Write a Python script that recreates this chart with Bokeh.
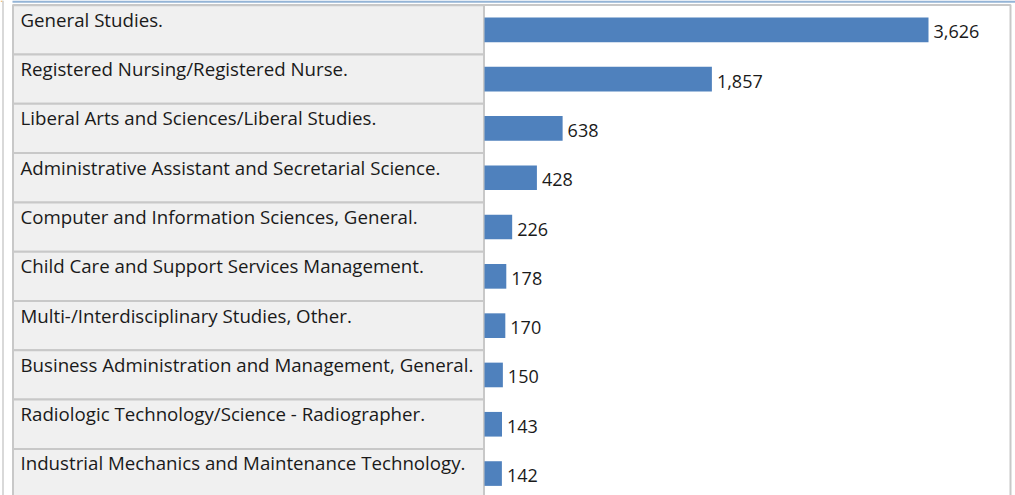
from bokeh.plotting import figure
from bokeh.models import Range1d, ColumnDataSource
from bokeh.embed import file_html
from bokeh.resources import INLINE
from bokeh.core.properties import value

programs = [
    "General Studies.",
    "Registered Nursing/Registered Nurse.",
    "Liberal Arts and Sciences/Liberal Studies.",
    "Administrative Assistant and Secretarial Science.",
    "Computer and Information Sciences, General.",
    "Child Care and Support Services Management.",
    "Multi-/Interdisciplinary Studies, Other.",
    "Business Administration and Management, General.",
    "Radiologic Technology/Science - Radiographer.",
    "Industrial Mechanics and Maintenance Technology.",
]
awards = [3626, 1857, 638, 428, 226, 178, 170, 150, 143, 142]
ranks = list(range(1, 11))
value_labels = [f"{v:,}" for v in awards]

W, H = 1015, 495
BAR0 = 484            # pixel where bars start
PX_PER_UNIT = 444 / 3626
FONT = value("Open Sans")

src = ColumnDataSource(dict(program=programs, awards=awards, rank=ranks,
                            top=[r - 0.5 for r in ranks],
                            bottom=[r + 0.5 for r in ranks],
                            label=value_labels))

p = figure(width=W, height=H, output_backend="svg", toolbar_location=None,
           x_range=Range1d(-BAR0 / PX_PER_UNIT, (W - BAR0) / PX_PER_UNIT),
           y_range=Range1d(10.445, 0.405),
           x_axis_location=None, y_axis_location=None,
           min_border=0)
p.extra_x_ranges = {"px": Range1d(0, W)}
p.extra_y_ranges = {"py": Range1d(H, 0)}
p.grid.visible = False
p.outline_line_color = None
p.background_fill_color = "white"
p.border_fill_color = "white"

# page decorations
p.quad(left=[12], right=[W], top=[0], bottom=[2.2], x_range_name="px", y_range_name="py",
       fill_color="#94b4d6", line_color=None)
p.quad(left=[0], right=[2], top=[0], bottom=[1.2], x_range_name="px", y_range_name="py",
       fill_color="#f0b050", line_color=None)
p.segment(x0=[2.5], x1=[2.5], y0=[0], y1=[H], x_range_name="px", y_range_name="py",
          line_color="#cccccc", line_width=1.5)
# outer box
p.quad(left=[12.5], right=[1010], top=[4.5], bottom=[H + 10], x_range_name="px", y_range_name="py",
       fill_color="white", line_color="#c8c8c8", line_width=2)

# label cells
p.quad(left=12.5, right=483.5, top="top", bottom="bottom", source=src, x_range_name="px",
       fill_color="#f0f0f0", line_color="#c8c8c8", line_width=2)
p.text(x=20, y="top", text="program", source=src, x_range_name="px",
       text_font=FONT, text_font_size="18.7px", text_color="#1a1a1a",
       text_baseline="alphabetic", y_offset=14)

# bars
p.hbar(y="rank", left=0, right="awards", height=0.5, source=src,
       fill_color="#4f81bd", line_color=None)
p.text(x="awards", y="rank", text="label", source=src,
       text_font=FONT, text_font_size="18px", text_color="#1a1a1a",
       text_baseline="middle", x_offset=5, y_offset=2)

open("out.html", "w").write(file_html(p, INLINE))
